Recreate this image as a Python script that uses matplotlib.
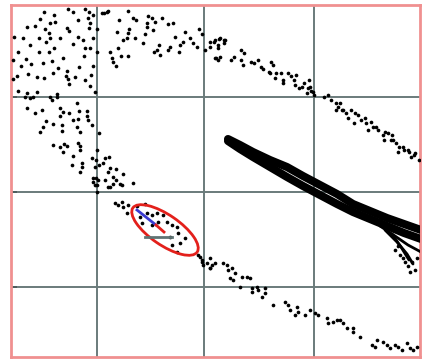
import numpy as np
import matplotlib.pyplot as plt
from matplotlib.patches import Ellipse

# point positions (x right, y down)
upper_cloud = [(44,12),(54,15),(68,9),(73,12),(85,9),(89,12),(88,18),(93,15),(40,19),(50,23),(55,22),(35,26),
               (27,27),(45,29),(67,28),(78,20),(90,23),(89,28),(97,29),(14,37),(23,38),(39,38),(49,33),(50,38),
               (60,38),(69,31),(78,37),(83,40),(93,38),(30,45),(46,42),(54,48),(73,44),(85,48),(90,48),(97,52),
               (18,52),(39,52),(26,59),(49,52),(63,58),(84,56),(13,60),(21,66),(31,64),(43,63),(52,61),(58,68),
               (67,71),(79,67),(93,66),(17,76),(28,74),(37,77),(44,78),(53,73),(66,76),(69,84),(75,77),(85,80),
               (91,75),(13,79),(90,86),(18,91),(27,93),(37,92),(57,94),(30,98),(50,97),(95,92),(68,79)]
top_arc = [(104,13),(108,11),(128,11),(133,18),(136,20),(119,20),(148,16),(152,18),(147,23),(155,22),(147,27),
           (162,18),(168,24),(173,23),(117,32),(129,29),(128,33),(153,30),(145,34),(127,38),(135,38),(123,40),
           (185,32),(199,29),(202,34),(175,37),(190,38),(183,42),(180,45),(193,43),(197,47),(143,43),(170,47),
           (159,45),(157,50),(154,52),(160,55),(168,50),(179,52),(118,48),(110,52),(112,58),(113,62),(116,66),
           (121,56),(128,56),(210,42),(215,40),(220,38),(225,40),(210,47),(218,48),(215,58),(220,57),(205,50),
           (102,13),(107,12)]
right_arc = [(214,42),(219,39),(224,40),(218,45),(224,43),(216,58),(218,60),(231,60),(234,57),(241,50),(244,53),
             (241,60),(243,65),(251,62),(254,63),(258,60),(261,67),(263,69),(271,62),(273,65),(269,72),(276,73),
             (281,73),(283,80),(288,73),(291,76),(294,80),(296,75),(304,83),(309,80),(308,88),(311,91),(314,95),
             (299,88),(324,97),(328,95),(331,100),(336,103),(338,107),(343,110),(346,113),(351,110),(358,115),
             (361,120),(366,123),(371,122),(376,127),(383,135),(388,133),(391,140),(396,143),(399,147),(404,150),
             (409,152),(414,155),(419,160),(336,110),(348,118),(354,123),(368,130),(384,140),(398,152),(411,157),
             (270,73),(275,78),(283,83),(295,85),(302,87),(310,87),(313,92),(307,93),(340,103),(342,110),(355,113),
             (365,118),(373,127),(378,130),(385,132),(392,135),(393,140),(403,147),(408,150),(415,153)]
left_arm = [(25,97),(33,97),(52,100),(57,97),(77,103),(27,108),(35,113),(42,110),(60,108),(63,112),(60,116),
            (69,113),(79,111),(87,111),(87,116),(73,120),(78,119),(88,120),(46,121),(53,124),(62,125),(43,127),
            (40,132),(77,127),(80,132),(62,131),(92,125),(99,133),(53,145),(60,147),(64,144),(67,146),(63,152),
            (78,143),(80,146),(80,150),(97,150),(73,156),(92,158),(96,160),(105,158),(109,157),(99,165),(103,163),
            (72,165),(82,163),(82,167),(80,172),(95,167),(110,168),(116,169),(108,172),(123,174),(93,178),(96,178),
            (98,180),(105,180),(95,185),(110,187),(116,180),(120,184),(133,183),(113,177),(93,182),(97,185),
            (108,187),(113,184),(122,185),(97,192)]
ellipse_pts = [(115,203),(118,205),(122,202),(123,207),(128,205),(127,213),(137,206),(145,204),(147,213),
               (152,215),(157,213),(163,215),(167,222),(172,225),(158,222),(142,223),(152,225),(178,233),
               (177,227),(170,237),(185,238),(180,243),(172,245),(177,252),(140,217),(198,255),(202,260),
               (207,263),(210,268)]
lower_arm = [(200,257),(202,262),(203,265),(210,258),(212,265),(215,263),(210,268),(223,263),(227,265),(228,270),
             (232,268),(235,273),(230,278),(233,280),(242,277),(247,277),(250,278),(240,287),(252,288),(257,287),
             (258,290),(252,292),(265,288),(265,293),(262,297),(273,305),(285,302),(288,305),(290,310),(297,307),
             (298,312),(295,315),(305,315),(310,310),(315,313),(318,315),(327,318),(328,323),(333,322),(337,320),
             (343,323),(347,328),(353,328),(353,332),(360,337),(372,345),(377,340),(383,342),(387,345),(390,348),
             (395,345),(398,347),(402,350),(407,343),(410,348),(413,350),(417,347),(375,347),(340,320)]
fan_pts = [(395,250),(400,255),(405,262),(408,266),(412,262),(398,246),(415,270),(403,258),(410,272),(417,258)]

# dense streak
streak_x = [228, 240, 253, 270, 287, 303, 320, 337, 353, 370, 387, 404, 421]
streak_top = [139, 145, 152, 160, 167, 176, 185, 194, 204, 211, 218, 224, 230]
streak_bot = [141, 149, 157, 167, 177, 186, 195, 204, 212, 219, 226, 233, 239]
fans = [([380, 395, 408, 421], [226, 236, 245, 252]),
        ([385, 397, 407, 413], [230, 242, 254, 264]),
        ([392, 401, 409], [234, 247, 260])]

grid_x = [97, 204, 314]
grid_y = [97, 192, 287]

fig = plt.figure(figsize=(4.22, 3.6), dpi=100)
ax = fig.add_axes([11/422, 3/360, 409/422, 352/360])

pts = np.array(upper_cloud + top_arc + right_arc + left_arm + ellipse_pts + lower_arm + fan_pts)
ax.scatter(pts[:, 0], pts[:, 1], s=7, color='black', linewidths=0, zorder=3)

ax.plot(streak_x, streak_top, color='black', lw=5.8, solid_capstyle='round', zorder=3)
ax.plot(streak_x, streak_bot, color='black', lw=5.8, solid_capstyle='round', zorder=3)
for fx, fy in fans:
    ax.plot(fx, fy, color='black', lw=2, solid_capstyle='round', zorder=3)

# ellipse with vectors
ax.add_patch(Ellipse((165, 230), 78, 30, angle=34.5, fill=False, edgecolor='#e3201b', lw=2, zorder=4))
ax.plot([137, 156], [210, 225], color='#3a3ad0', lw=2, zorder=5)
ax.plot([156, 164], [225, 232], color='#e3201b', lw=2, zorder=5)
ax.plot([145, 172], [237, 237], color='#5f7474', lw=2, zorder=5)

ax.set_xlim(11, 420)
ax.set_ylim(357, 5)
ax.set_xticks(grid_x)
ax.set_yticks(grid_y)
ax.tick_params(labelleft=False, labelbottom=False, direction='in', length=4, width=1.3,
               color='#4a5a5a', bottom=False)
ax.grid(True, color='#6a7b7b', lw=1.4, zorder=1)
for sp in ax.spines.values():
    sp.set_color('#f09090')
    sp.set_linewidth(2)

fig.savefig('out.png', dpi=100)
